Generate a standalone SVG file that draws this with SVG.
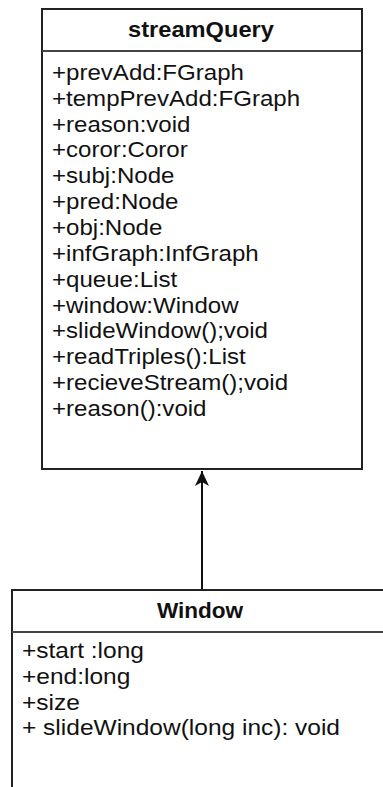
<svg xmlns="http://www.w3.org/2000/svg" width="383" height="787" viewBox="0 0 383 787">
  <defs>
    <style>
      .box { fill: #ffffff; stroke: #222222; stroke-width: 2; }
      .div { stroke: #444444; stroke-width: 2; fill: none; }
      .title { font-family: "Liberation Sans", Arial, sans-serif; font-weight: bold; font-size: 21.5px; fill: #111111; }
      .member { font-family: "Liberation Sans", Arial, sans-serif; font-size: 21.5px; fill: #111111; }
      .edge { stroke: #111111; stroke-width: 2; fill: none; }
    </style>
    <marker id="arrow" viewBox="0 0 16 16" refX="15" refY="8" markerWidth="16" markerHeight="16" markerUnits="userSpaceOnUse" orient="auto">
      <path d="M15,8 L0,1 L4,8 L0,15 Z" fill="#111111"/>
    </marker>
  </defs>

  <rect width="383" height="787" fill="#ffffff"/>

  <!-- connectors -->
  <g id="connectors">
    <line class="edge" x1="202" y1="590" x2="202" y2="471" marker-end="url(#arrow)"/>
  </g>

  <!-- streamQuery class -->
  <g id="streamQuery">
    <rect class="box" x="42" y="9" width="320" height="460"/>
    <line class="div" x1="42" y1="51" x2="361" y2="51"/>
    <g transform="translate(201,0) scale(1.1,1)">
      <text class="title" x="0" y="37.5" text-anchor="middle">streamQuery</text>
    </g>
    <g transform="translate(52,0) scale(1.12,1)">
      <text class="member" x="0" y="80">+prevAdd:FGraph</text>
      <text class="member" x="0" y="105.8">+tempPrevAdd:FGraph</text>
      <text class="member" x="0" y="131.7">+reason:void</text>
      <text class="member" x="0" y="157.5">+coror:Coror</text>
      <text class="member" x="0" y="183.4">+subj:Node</text>
      <text class="member" x="0" y="209.2">+pred:Node</text>
      <text class="member" x="0" y="235.1">+obj:Node</text>
      <text class="member" x="0" y="260.9">+infGraph:InfGraph</text>
      <text class="member" x="0" y="286.8">+queue:List</text>
      <text class="member" x="0" y="312.6">+window:Window</text>
      <text class="member" x="0" y="338.5">+slideWindow();void</text>
      <text class="member" x="0" y="364.3">+readTriples():List</text>
      <text class="member" x="0" y="390.2">+recieveStream();void</text>
      <text class="member" x="0" y="416">+reason():void</text>
    </g>
  </g>

  <!-- Window class -->
  <g id="Window">
    <rect class="box" x="12" y="590" width="400" height="300"/>
    <line class="div" x1="12" y1="632" x2="383" y2="632"/>
    <g transform="translate(200,0) scale(1.05,1)">
      <text class="title" x="0" y="618" text-anchor="middle">Window</text>
    </g>
    <g transform="translate(22,0) scale(1.14,1)">
      <text class="member" x="0" y="658">+start :long</text>
      <text class="member" x="0" y="684">+end:long</text>
      <text class="member" x="0" y="710">+size</text>
      <text class="member" x="0" y="735">+ slideWindow(long inc): void</text>
    </g>
  </g>
</svg>
